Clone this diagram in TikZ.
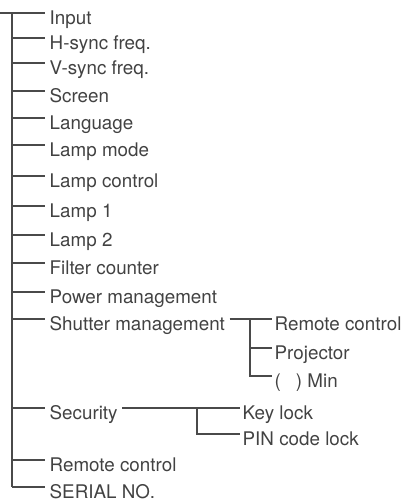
\documentclass[tikz,border=0pt]{standalone}
\usepackage{fontspec}
\setmainfont{TeX Gyre Heros}
\usetikzlibrary{calc}
\definecolor{inkgray}{HTML}{424242}
\definecolor{wiregray}{HTML}{4A4A4A}
\tikzset{
  item/.style={
    anchor=west, inner xsep=4.5pt, inner ysep=0pt,
    text height=22pt, text depth=0pt,
    text=inkgray,
    font=\fontsize{18.8}{20}\selectfont
  },
  subitem/.style={item, inner xsep=2.5pt},
  wire/.style={draw=wiregray, line width=1.4pt},
}

\begin{document}
\begin{tikzpicture}[x=1pt, y=-1pt]
\useasboundingbox (0,0) rectangle (405,504);

%% ── Trunk and entry ─────────────────────────────────────────────────────────
\coordinate (entry) at (0, 13);
\coordinate (trunk) at (12, 13);

%% ── Menu items (top to bottom) ──────────────────────────────────────────────
\node[item] (input)    at (45,  13) {Input};
\node[item] (hsync)    at (45,  38) {H-sync freq.};
\node[item] (vsync)    at (45,  63) {V-sync freq.};
\node[item] (screen)   at (45,  91) {Screen};
\node[item] (language) at (45, 118) {Language};
\node[item] (lampmode) at (45, 145) {Lamp mode};
\node[item] (lampctrl) at (45, 176) {Lamp control};
\node[item] (lampone)  at (45, 206) {Lamp 1};
\node[item] (lamptwo)  at (45, 235) {Lamp 2};
\node[item] (filter)   at (45, 263) {Filter counter};
\node[item] (power)    at (45, 292) {Power management};
\node[item] (shutter)  at (45, 319) {Shutter management};
\node[item] (security) at (45, 408) {Security};
\node[item] (remote)   at (45, 460) {Remote control};
\node[item] (serial)   at (45, 487) {SERIAL NO.};

%% ── Shutter management sub-items ────────────────────────────────────────────
\coordinate (shutfork) at (250, 319);
\node[subitem] (shutremote) at (272, 319) {Remote control};
\node[subitem] (shutproj)   at (272, 348) {Projector};
\node[subitem] (shutmin)    at (272, 376) {(\hspace{15pt}) Min};

%% ── Security sub-items ──────────────────────────────────────────────────────
\coordinate (secfork) at (197, 408);
\node[subitem] (keylock) at (240, 408) {Key lock};
\node[subitem] (pinlock) at (240, 434) {PIN code lock};

%% ── Trunk: entry line, spine, branches ──────────────────────────────────────
\draw[wire] (entry) -- (input.west);
\draw[wire] (trunk) -- (trunk |- serial.west);
\draw[wire] (trunk |- hsync.west)    -- (hsync.west);
\draw[wire] (trunk |- vsync.west)    -- (vsync.west);
\draw[wire] (trunk |- screen.west)   -- (screen.west);
\draw[wire] (trunk |- language.west) -- (language.west);
\draw[wire] (trunk |- lampmode.west) -- (lampmode.west);
\draw[wire] (trunk |- lampctrl.west) -- (lampctrl.west);
\draw[wire] (trunk |- lampone.west)  -- (lampone.west);
\draw[wire] (trunk |- lamptwo.west)  -- (lamptwo.west);
\draw[wire] (trunk |- filter.west)   -- (filter.west);
\draw[wire] (trunk |- power.west)    -- (power.west);
\draw[wire] (trunk |- shutter.west)  -- (shutter.west);
\draw[wire] (trunk |- security.west) -- (security.west);
\draw[wire] (trunk |- remote.west)   -- (remote.west);
\draw[wire] (trunk |- serial.west)   -- (serial.west);

%% ── Shutter management fork ─────────────────────────────────────────────────
\draw[wire] (shutter.east) -- (shutremote.west);
\draw[wire] (shutfork) -- (shutfork |- shutmin.west) -- (shutmin.west);
\draw[wire] (shutfork |- shutproj.west) -- (shutproj.west);

%% ── Security fork ───────────────────────────────────────────────────────────
\draw[wire] (security.east) -- (keylock.west);
\draw[wire] (secfork) -- (secfork |- pinlock.west) -- (pinlock.west);

\end{tikzpicture}
\end{document}
